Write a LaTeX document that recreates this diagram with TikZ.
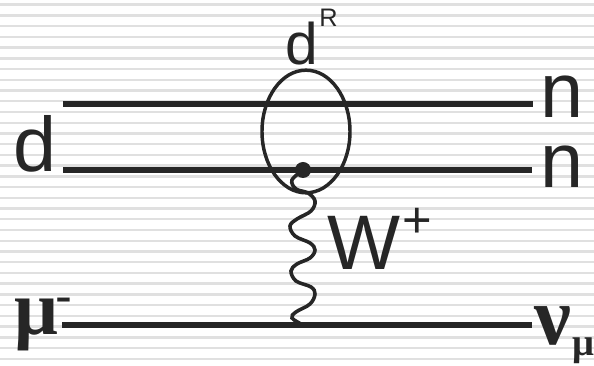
\documentclass[tikz,border=0pt]{standalone}
\usepackage{fontspec}
\setmainfont{Liberation Sans}
\newfontfamily\grk{Liberation Serif}
\usetikzlibrary{shapes.geometric}
\begin{document}
\begin{tikzpicture}[x=0.75pt,y=-0.75pt,
  stripe/.style={draw=black!12,line width=1.8pt},
  fline/.style={line width=4pt,draw=black!85},
  wline/.style={line width=2.7pt,draw=black!85},
  txt/.style={inner sep=0,anchor=base west,text=black!85},
  big/.style={txt,font=\fontsize{58}{58}\selectfont},
  grkbig/.style={txt,font=\grk\bfseries\fontsize{58}{58}\selectfont},
  grksub/.style={txt,font=\grk\bfseries\fontsize{29}{29}\selectfont}]
  \useasboundingbox (0,0) rectangle (594,366);
  % background stripes
  \foreach \k in {0,...,33}
    \draw[stripe] (0,{4.7+10.73*\k}) -- (594,{4.7+10.73*\k});
  % fermion lines
  \coordinate (tl) at (63,104); \coordinate (tr) at (533,104);
  \coordinate (ml) at (63,170); \coordinate (mr) at (532,170);
  \coordinate (bl) at (62,325); \coordinate (br) at (532,325);
  \draw[fline] (tl)--(tr);
  \draw[fline] (ml)--(mr);
  \draw[fline] (bl)--(br);
  % loop and vertex
  \node[ellipse,draw=black!85,line width=2.6pt,inner sep=0,minimum width=66pt,minimum height=92pt] (loop) at (306,131.5) {};
  \node[circle,fill=black!85,inner sep=0,minimum size=12pt] (vtx) at (303,170) {};
  \coordinate (wend) at (303,325);
  \draw[wline] plot[smooth,tension=0.6] coordinates {(vtx.center) (292,180) (296,189) (308,193) (315,201) (311,211) (297,219) (290,226) (295,236) (310,243) (315,250) (310,258) (297,264) (291,271) (296,281) (311,287) (315,294) (310,304) (296,312) (292,318) (wend)};
  % labels
  \node[big] (din) at (13,172) {d};
  \node[big] (nup) at (540,118) {n};
  \node[big] (ndown) at (540,188) {n};
  \node[txt,font=\fontsize{44}{44}\selectfont] (dR) at (285,65) {d};
  \node[txt,font=\fontsize{19}{19}\selectfont] (R) at (319,27) {R};
  \node[big] (W) at (327,270) {W};
  \node[txt,font=\fontsize{38}{38}\selectfont] (plus) at (402,238) {+};
  \node[grkbig] (mu) at (14,335) {μ};
  \node[txt,font=\fontsize{38}{38}\selectfont] (minus) at (55,314) {-};
  \node[grkbig,font=\grk\bfseries\fontsize{62}{62}\selectfont] (nu) at (534,345) {ν};
  \node[grksub] (numu) at (572,356) {μ};
\end{tikzpicture}
\end{document}
